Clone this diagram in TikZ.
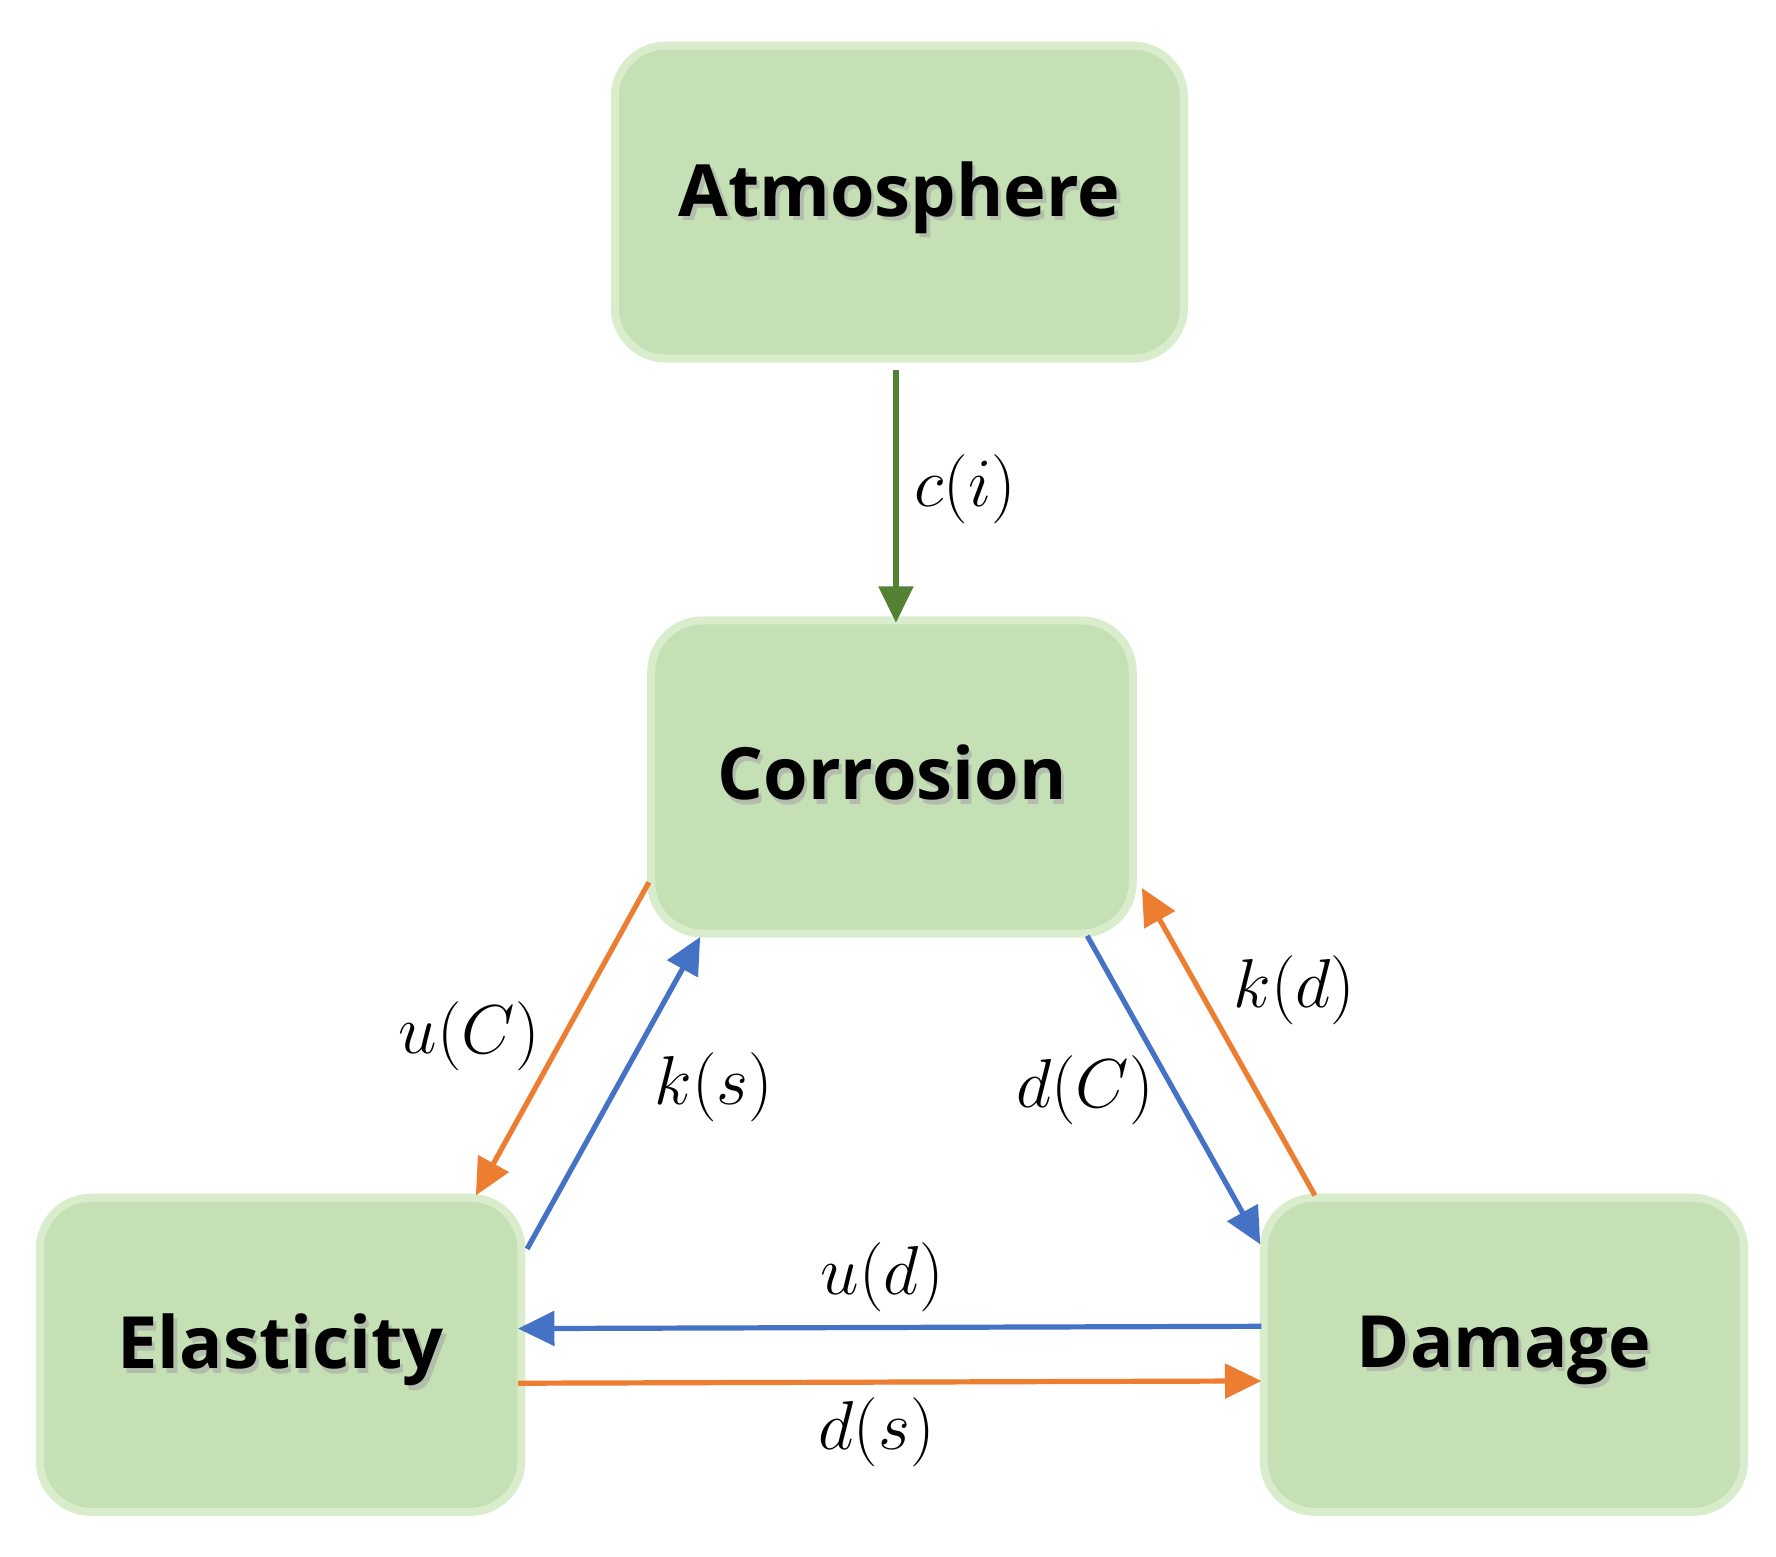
\documentclass[tikz,border=0pt]{standalone}
\usepackage{fontspec}
\setsansfont{Open Sans}
\usetikzlibrary{arrows.meta}
\definecolor{boxfill}{HTML}{C5E0B4}
\definecolor{boxline}{HTML}{D9EDCC}
\definecolor{gr}{HTML}{548235}
\definecolor{bl}{HTML}{4472C4}
\definecolor{og}{HTML}{ED7D31}
\tikzset{
 box/.style={draw=boxline,line width=2pt,fill=boxfill,rounded corners=0.45cm,inner sep=0pt},
 btext/.style={font=\sffamily\bfseries\fontsize{18}{22}\selectfont},
 arr/.style={line width=1.3pt,-{Triangle[length=0.32cm,width=0.3cm]}},
 lab/.style={font=\fontsize{17}{20}\selectfont}
}
\begin{document}
\begin{tikzpicture}[x=0.01cm,y=-0.01cm]
\useasboundingbox (0,0) rectangle (1560,1367);
\newcommand{\bx}[6]{%
 \draw[box] (#2,#3) rectangle (#4,#5);
 \node[btext,text=gray!70,opacity=.6] at ({(#2+#4)/2+3},{(#3+#5)/2-4+4}) {#6};
 \node[btext] (#1) at ({(#2+#4)/2},{(#3+#5)/2-4}) {#6};}
\bx{atm}{540}{40}{1040}{315}{Atmosphere}
\bx{cor}{572}{545}{995}{820}{Corrosion}
\bx{ela}{35}{1052}{458}{1328}{Elasticity}
\bx{dam}{1110}{1052}{1532}{1328}{Damage}
\coordinate (a1) at (787,325); \coordinate (a2) at (787,547);
\coordinate (o1) at (570,775); \coordinate (o2) at (418,1050);
\coordinate (b1) at (463,1097); \coordinate (b2) at (615,823);
\coordinate (b3) at (955,822); \coordinate (b4) at (1107,1093);
\coordinate (o3) at (1155,1050); \coordinate (o4) at (1003,780);
\coordinate (b5) at (1108,1165); \coordinate (b6) at (455,1167);
\coordinate (o5) at (455,1215); \coordinate (o6) at (1108,1213);
\draw[arr,gr] (a1) -- (a2);
\draw[arr,og] (o1) -- (o2);
\draw[arr,bl] (b1) -- (b2);
\draw[arr,bl] (b3) -- (b4);
\draw[arr,og] (o3) -- (o4);
\draw[arr,bl] (b5) -- (b6);
\draw[arr,og] (o5) -- (o6);
\node[lab] (l1) at (848,430) {$c(i)$};
\node[lab] (l2) at (412,910) {$u(C)$};
\node[lab] (l3) at (627,955) {$k(s)$};
\node[lab] (l4) at (953,958) {$d(C)$};
\node[lab] (l5) at (1137,870) {$k(d)$};
\node[lab] (l6) at (775,1122) {$u(d)$};
\node[lab] (l7) at (770,1258) {$d(s)$};
\end{tikzpicture}
\end{document}
